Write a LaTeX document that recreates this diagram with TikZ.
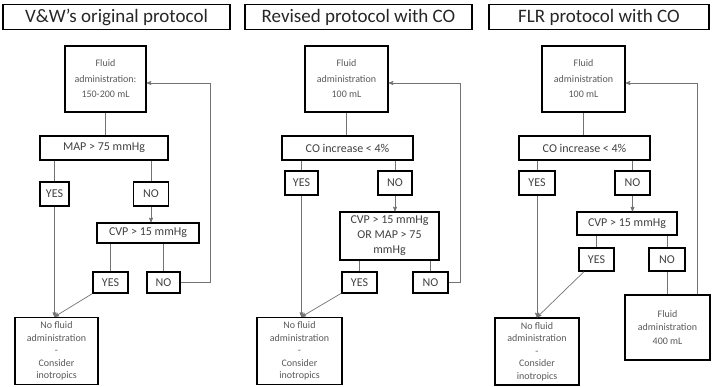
\documentclass[tikz,border=0pt]{standalone}
\usepackage{fontspec}
\setmainfont{Carlito}
\usepackage{xcolor}
\usetikzlibrary{arrows}
\usetikzlibrary{calc}

\begin{document}
\begin{tikzpicture}[-,>=stealth',x=1pt,y=-1pt,semithick]
 				 \tikzstyle{box}=[draw=black, line width=1.4pt, text=black!75, align=center, inner sep=1pt]
 				 \tikzstyle{title}=[box, text=black!85, font=\fontsize{19}{22}\selectfont, minimum height=25pt]
 				 \tikzstyle{cond}=[box, font=\fontsize{12}{15}\selectfont]
 				 \tikzstyle{small}=[box, text=black!65, font=\fontsize{10}{12.5}\selectfont]
 				 \tikzstyle{dose}=[box, text=black!65, font=\fontsize{10}{15.5}\selectfont]
 				 \tikzstyle{link}=[draw=black!55, line width=0.7pt]
 				 \useasboundingbox (0,0) rectangle (717,387);
 					 % V&W's original protocol
 					 \node[title, minimum width=227pt] (t1) at (116.5,17) {V\&W’s original protocol};
 					 \node[dose, minimum width=81pt, minimum height=66pt] (f1) at (105.5,79) {Fluid\\administration:\\150-200 mL};
 					 \node[cond, minimum width=128pt, minimum height=24pt] (m1) at (104,148) {MAP > 75 mmHg};
 					 \node[cond, minimum width=29pt, minimum height=24pt] (y1) at (54.5,194) {YES};
 					 \node[cond, minimum width=35pt, minimum height=24pt] (n1) at (151,194) {NO};
 					 \node[cond, minimum width=102pt, minimum height=20pt] (c1) at (148,233) {CVP > 15 mmHg};
 					 \node[cond, minimum width=35pt, minimum height=21pt] (y2) at (110.5,282.5) {YES};
 					 \node[cond, minimum width=33pt, minimum height=21pt] (n2) at (163.5,282.5) {NO};
 					 \node[small, minimum width=83pt, minimum height=67pt] (e1) at (56.5,351) {No fluid\\administration\\-\\Consider\\inotropics};
 					 \coordinate (r1) at (210,83);
 					 \draw[link] (f1.south) -- (f1.south |- m1.north);
 					 \draw[link] (y1 |- m1.south) -- (y1);
 					 \draw[link] (n1 |- m1.south) -- (n1);
 					 \draw[link,->] (n1) -- (n1 |- c1.north);
 					 \draw[link] (y2 |- c1.south) -- (y2);
 					 \draw[link] (n2 |- c1.south) -- (n2);
 					 \draw[link,->] (n2) -| (r1) -- (r1 -| f1.east);
 					 \draw[link,->] (y1) -- (y1 |- e1.north);
 					 \draw[link,->] (y2) -- (y1 |- e1.north);
 					 % Revised protocol with CO
 					 \node[title, minimum width=227pt] (t2) at (358.5,17) {Revised protocol with CO};
 					 \node[dose, minimum width=83pt, minimum height=66pt] (f2) at (346.5,79) {Fluid\\administration\\100 mL};
 					 \node[cond, minimum width=131pt, minimum height=24pt] (m2) at (347.5,148) {CO increase < 4\%};
 					 \node[cond, minimum width=33pt, minimum height=24pt] (y3) at (301.5,183) {YES};
 					 \node[cond, minimum width=34pt, minimum height=24pt] (n3) at (395,183) {NO};
 					 \node[cond, minimum width=99pt, minimum height=48pt] (c2) at (389.5,236) {CVP > 15 mmHg\\OR MAP > 75\\mmHg};
 					 \node[cond, minimum width=35pt, minimum height=21pt] (y4) at (359.5,282.5) {YES};
 					 \node[cond, minimum width=35pt, minimum height=21pt] (n4) at (430.5,282.5) {NO};
 					 \node[small, minimum width=85pt, minimum height=67pt] (e2) at (299.5,351) {No fluid\\administration\\-\\Consider\\inotropics};
 					 \coordinate (r2) at (460,83);
 					 \draw[link] (f2.south) -- (f2.south |- m2.north);
 					 \draw[link] (y3 |- m2.south) -- (y3);
 					 \draw[link] (n3 |- m2.south) -- (n3);
 					 \draw[link,->] (n3) -- (n3 |- c2.north);
 					 \draw[link] (y4 |- c2.south) -- (y4);
 					 \draw[link] (n4 |- c2.south) -- (n4);
 					 \draw[link,->] (n4) -| (r2) -- (r2 -| f2.east);
 					 \draw[link,->] (y3) -- (y3 |- e2.north);
 					 \draw[link,->] (y4) -- (y3 |- e2.north);
 					 % FLR protocol with CO
 					 \node[title, minimum width=220pt] (t3) at (599,17) {FLR protocol with CO};
 					 \node[dose, minimum width=83pt, minimum height=66pt] (f3) at (583.5,79) {Fluid\\administration\\100 mL};
 					 \node[cond, minimum width=131pt, minimum height=24pt] (m3) at (584.5,148) {CO increase < 4\%};
 					 \node[cond, minimum width=36pt, minimum height=24pt] (y5) at (537,183) {YES};
 					 \node[cond, minimum width=35pt, minimum height=24pt] (n5) at (632.5,183) {NO};
 					 \node[cond, minimum width=100pt, minimum height=23pt] (c3) at (627,223.5) {CVP > 15 mmHg};
 					 \node[cond, minimum width=35pt, minimum height=23pt] (y6) at (596.5,259.5) {YES};
 					 \node[cond, minimum width=36pt, minimum height=23pt] (n6) at (667,259.5) {NO};
 					 \node[small, text=black!65, font=\fontsize{10}{13.5}\selectfont, minimum width=85pt, minimum height=65pt] (g3) at (667.5,327.5) {Fluid\\administration\\400 mL};
 					 \node[small, minimum width=84pt, minimum height=67pt] (e3) at (537,351.5) {No fluid\\administration\\-\\Consider\\inotropics};
 					 \coordinate (r3) at (697,83);
 					 \draw[link] (f3.south) -- (f3.south |- m3.north);
 					 \draw[link] (y5 |- m3.south) -- (y5);
 					 \draw[link] (n5 |- m3.south) -- (n5);
 					 \draw[link,->] (n5) -- (n5 |- c3.north);
 					 \draw[link] (y6 |- c3.south) -- (y6);
 					 \draw[link] (n6 |- c3.south) -- (n6);
 					 \draw[link] (n6) -- (n6 |- g3.north);
 					 \draw[link,->] (r3 |- g3.north) -- (r3) -- (r3 -| f3.east);
 					 \draw[link,->] (y5) -- (y5 |- e3.north);
 					 \draw[link,->] (y6) -- (y5 |- e3.north);
				\end{tikzpicture}
\end{document}
